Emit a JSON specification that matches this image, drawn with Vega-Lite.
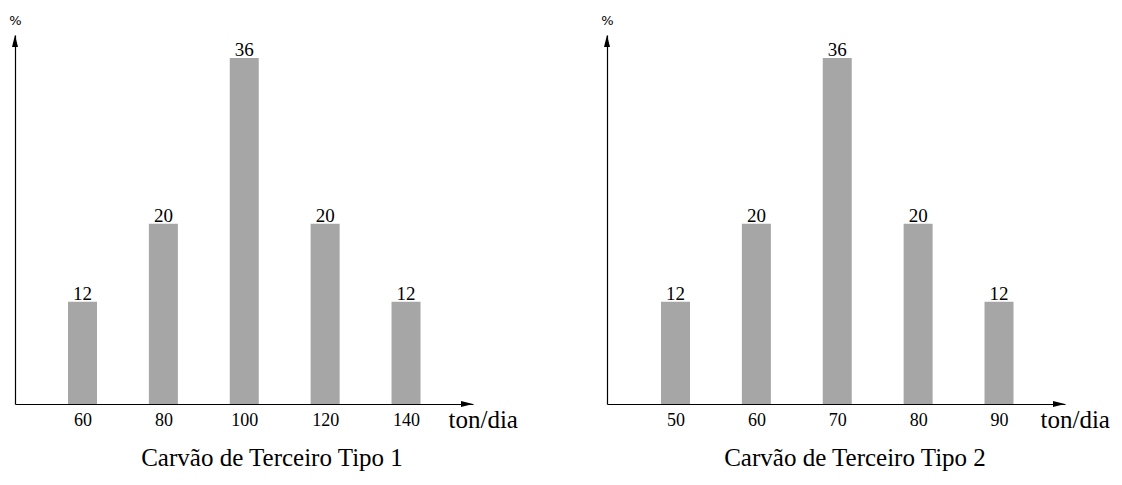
{
  "$schema": "https://vega.github.io/schema/vega-lite/v6.json",
  "autosize": {"type": "pad"},
  "padding": {"left": 8, "top": 14, "right": 0, "bottom": 0},
  "background": "white",
  "datasets": {
    "tipo1": [
      {"ton": 60, "pct": 12},
      {"ton": 80, "pct": 20},
      {"ton": 100, "pct": 36},
      {"ton": 120, "pct": 20},
      {"ton": 140, "pct": 12}
    ],
    "tipo2": [
      {"ton": 50, "pct": 12},
      {"ton": 60, "pct": 20},
      {"ton": 70, "pct": 36},
      {"ton": 80, "pct": 20},
      {"ton": 90, "pct": 12}
    ],
    "arrow": [{}]
  },
  "spacing": 134,
  "bounds": "flush",
  "hconcat": [
    {
      "width": 458,
      "height": 369,
      "title": {"text": "Carvão de Terceiro Tipo 1", "orient": "bottom", "dx": 28, "offset": 14},
      "layer": [
        {
          "data": {"name": "tipo1"},
          "mark": {"type": "bar", "orient": "vertical", "size": 29, "color": "#a6a6a6"},
          "encoding": {
            "x": {"field": "ton", "type": "quantitative",
                  "scale": {"domain": [43.31, 156.56], "nice": false, "zero": false, "padding": 0},
                  "axis": {"values": [60, 80, 100, 120, 140], "title": "ton/dia", "titleX": 433, "titleY": 23}},
            "y": {"field": "pct", "type": "quantitative",
                  "scale": {"type": "pow", "exponent": 1.109, "domain": [0, 38.16], "nice": false},
                  "axis": {"title": "%"}}
          }
        },
        {
          "data": {"name": "tipo1"},
          "mark": {"type": "text", "baseline": "alphabetic", "dy": -2, "font": "Liberation Serif", "fontSize": 19, "color": "black"},
          "encoding": {
            "x": {"field": "ton", "type": "quantitative"},
            "y": {"field": "pct", "type": "quantitative"},
            "text": {"field": "pct", "type": "quantitative"}
          }
        },
        {
          "data": {"name": "arrow"},
          "mark": {"type": "point", "shape": "M0,0L-0.5,2L0.5,2Z", "filled": true, "color": "black", "opacity": 1, "size": 144, "strokeWidth": 0},
          "encoding": {"x": {"datum": 43.31, "type": "quantitative"}, "y": {"datum": 38.16, "type": "quantitative"}}
        },
        {
          "data": {"name": "arrow"},
          "mark": {"type": "point", "shape": "M0,0L-2,-0.5L-2,0.5Z", "filled": true, "color": "black", "opacity": 1, "size": 144, "strokeWidth": 0},
          "encoding": {"x": {"datum": 156.56, "type": "quantitative"}, "y": {"datum": 0, "type": "quantitative"}}
        }
      ]
    },
    {
      "width": 458,
      "height": 369,
      "title": {"text": "Carvão de Terceiro Tipo 2", "orient": "bottom", "dx": 19, "offset": 14},
      "layer": [
        {
          "data": {"name": "tipo2"},
          "mark": {"type": "bar", "orient": "vertical", "size": 29, "color": "#a6a6a6"},
          "encoding": {
            "x": {"field": "ton", "type": "quantitative",
                  "scale": {"domain": [41.53, 98.16], "nice": false, "zero": false, "padding": 0},
                  "axis": {"values": [50, 60, 70, 80, 90], "title": "ton/dia", "titleX": 433, "titleY": 23}},
            "y": {"field": "pct", "type": "quantitative",
                  "scale": {"type": "pow", "exponent": 1.109, "domain": [0, 38.16], "nice": false},
                  "axis": {"title": "%"}}
          }
        },
        {
          "data": {"name": "tipo2"},
          "mark": {"type": "text", "baseline": "alphabetic", "dy": -2, "font": "Liberation Serif", "fontSize": 19, "color": "black"},
          "encoding": {
            "x": {"field": "ton", "type": "quantitative"},
            "y": {"field": "pct", "type": "quantitative"},
            "text": {"field": "pct", "type": "quantitative"}
          }
        },
        {
          "data": {"name": "arrow"},
          "mark": {"type": "point", "shape": "M0,0L-0.5,2L0.5,2Z", "filled": true, "color": "black", "opacity": 1, "size": 144, "strokeWidth": 0},
          "encoding": {"x": {"datum": 41.53, "type": "quantitative"}, "y": {"datum": 38.16, "type": "quantitative"}}
        },
        {
          "data": {"name": "arrow"},
          "mark": {"type": "point", "shape": "M0,0L-2,-0.5L-2,0.5Z", "filled": true, "color": "black", "opacity": 1, "size": 144, "strokeWidth": 0},
          "encoding": {"x": {"datum": 98.16, "type": "quantitative"}, "y": {"datum": 0, "type": "quantitative"}}
        }
      ]
    }
  ],
  "config": {
    "view": {"stroke": null},
    "font": "Liberation Serif",
    "axisX": {
      "grid": false, "ticks": false, "domain": true, "domainColor": "black", "domainWidth": 1.2,
      "labelFont": "Liberation Serif", "labelFontSize": 18, "labelColor": "black", "labelPadding": 7,
      "titleFont": "Liberation Serif", "titleFontSize": 25, "titleFontWeight": "normal", "titleColor": "black",
      "titleAlign": "left", "titleBaseline": "alphabetic", "titleAnchor": null
    },
    "axisY": {
      "grid": false, "ticks": false, "labels": false, "domain": true, "domainColor": "black", "domainWidth": 1.2,
      "titleFont": "DejaVu Sans", "titleFontSize": 13, "titleFontWeight": "normal", "titleColor": "black",
      "titleAngle": 0, "titleX": 0, "titleY": -15, "titleAlign": "center", "titleBaseline": "middle"
    },
    "title": {"font": "Liberation Serif", "fontSize": 25, "fontWeight": "normal", "color": "black", "anchor": "middle", "baseline": "top"}
  }
}
